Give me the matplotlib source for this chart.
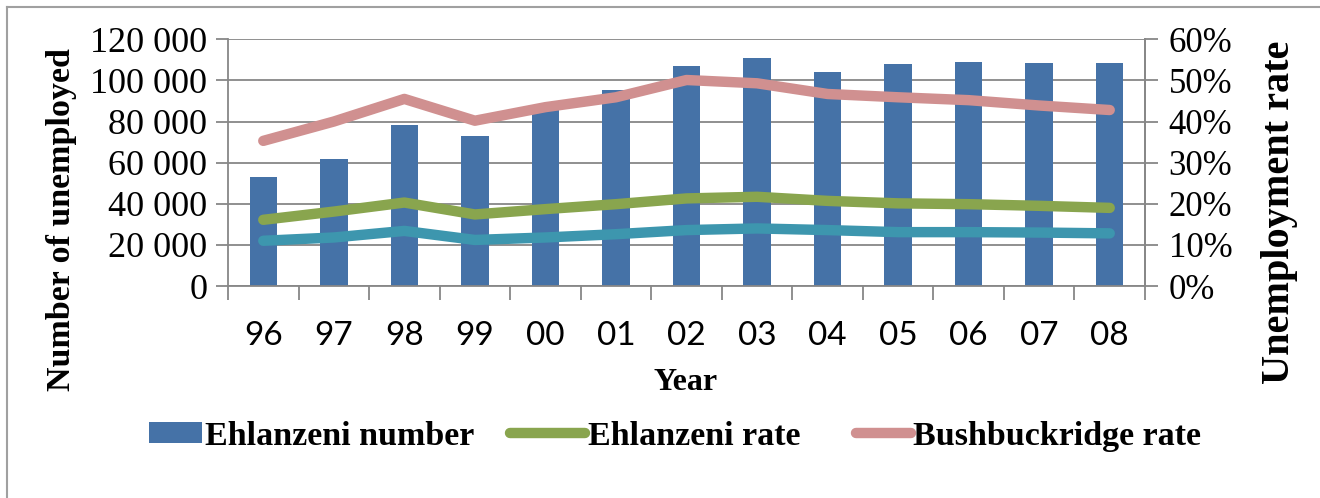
import matplotlib
matplotlib.use("Agg")
import matplotlib.pyplot as plt
from matplotlib.lines import Line2D
from matplotlib.patches import Patch, Rectangle
from matplotlib.legend_handler import HandlerPatch, HandlerLine2D
from matplotlib.ticker import FuncFormatter, MultipleLocator, FixedLocator
import numpy as np

years = ["96", "97", "98", "99", "00", "01", "02", "03", "04", "05", "06", "07", "08"]
ehlanzeni_number = [53000, 61600, 78200, 73000, 85500, 95300, 107200, 110700, 103900, 108000, 109100, 108500, 108600]
ehlanzeni_rate = [16.1, 18.1, 20.3, 17.4, 18.7, 19.9, 21.3, 21.7, 20.7, 20.1, 19.9, 19.5, 19.0]
bushbuckridge_rate = [35.3, 40.0, 45.5, 40.2, 43.5, 45.9, 50.1, 49.3, 46.7, 45.9, 45.2, 43.9, 42.8]
other_rate = [11.0, 11.8, 13.4, 11.2, 11.8, 12.6, 13.6, 14.0, 13.6, 13.1, 13.1, 13.0, 12.8]

BLUE = "#4572A7"
GREEN = "#89A54E"
PINK = "#D09090"
TEAL = "#3D96AE"
GRID = "#878787"

W, H = 1320, 498
fig = plt.figure(figsize=(W / 100, H / 100), dpi=100)

ax = fig.add_axes([228 / W, 1 - 286 / H, (1145 - 228) / W, (286 - 39.3) / H])
x = np.arange(len(years))
ax.bar(x, ehlanzeni_number, width=0.39, color=BLUE, zorder=2)
ax.set_xlim(-0.5, len(years) - 0.5)
ax.set_ylim(0, 120000)
ax.yaxis.set_major_locator(MultipleLocator(20000))
ax.yaxis.set_major_formatter(FuncFormatter(lambda v, p: f"{int(v):,}".replace(",", " ")))
ax.grid(axis="y", color=GRID, linewidth=1.3, zorder=0)
ax.set_axisbelow(True)
ax.set_xticks(x)
ax.set_xticklabels(years, fontfamily="Lato", fontsize=24)
ax.xaxis.set_minor_locator(FixedLocator(np.arange(-0.5, len(years), 1.0)))
ax.tick_params(axis="x", which="major", length=0, pad=25)
ax.tick_params(axis="x", which="minor", length=10, width=1.3, color=GRID)
ax.tick_params(axis="y", length=9, width=1.3, color=GRID, pad=6)
for lab in ax.get_yticklabels():
    lab.set_fontfamily("Liberation Serif")
    lab.set_fontsize(26)
ax.spines["top"].set_visible(False)
for s in ["left", "right", "bottom"]:
    ax.spines[s].set_color(GRID)
    ax.spines[s].set_linewidth(1.3)

ax2 = ax.twinx()
kw = dict(linewidth=7.5, solid_capstyle="round", solid_joinstyle="round", zorder=3)
ax2.plot(x, other_rate, color=TEAL, **kw)
ax2.plot(x, ehlanzeni_rate, color=GREEN, **kw)
ax2.plot(x, bushbuckridge_rate, color=PINK, **kw)
ax2.set_ylim(0, 60)
ax2.yaxis.set_major_locator(MultipleLocator(10))
ax2.yaxis.set_major_formatter(FuncFormatter(lambda v, p: f"{int(v)}%"))
ax2.tick_params(axis="y", length=9, width=1.3, color=GRID, pad=8)
for lab in ax2.get_yticklabels():
    lab.set_fontfamily("Liberation Serif")
    lab.set_fontsize(25)
for s in ["top", "left", "bottom"]:
    ax2.spines[s].set_visible(False)
ax2.spines["right"].set_color(GRID)
ax2.spines["right"].set_linewidth(1.3)

fig.text(62 / W, 1 - 220 / H, "Number of unemployed", rotation=90, ha="center", va="center",
         fontfamily="Liberation Serif", fontweight="bold", fontsize=24.5)
fig.text(1280 / W, 1 - 212 / H, "Unemployment rate", rotation=90, ha="center", va="center",
         fontfamily="Liberation Serif", fontweight="bold", fontsize=29)
fig.text(686 / W, 1 - 382 / H, "Year", ha="center", va="center",
         fontfamily="Liberation Serif", fontweight="bold", fontsize=23)


def small_box(legend, orig_handle, xdescent, ydescent, width, height, fontsize):
    w = width * 0.68
    return Rectangle((width - w - xdescent, -ydescent), w, height)


class ShortLine(HandlerLine2D):
    def __init__(self, frac=1.0, **kw):
        super().__init__(**kw)
        self.frac = frac

    def create_artists(self, legend, orig_handle, xdescent, ydescent, width, height, fontsize, trans):
        arts = super().create_artists(legend, orig_handle, xdescent, ydescent, width, height, fontsize, trans)
        for a in arts:
            xd = np.asarray(a.get_xdata(), dtype=float)
            if xd.size >= 2:
                x1 = xd.max()
                x0 = x1 - (x1 - xd.min()) * self.frac
                a.set_xdata(np.linspace(x0, x1, xd.size))
        return arts


green_h = Line2D([], [], color=GREEN, linewidth=7.5, solid_capstyle="round")
pink_h = Line2D([], [], color=PINK, linewidth=7.5, solid_capstyle="round")
handles = [Patch(facecolor=BLUE, edgecolor="none"), green_h, pink_h]
labels = ["Ehlanzeni number", "Ehlanzeni rate", "Bushbuckridge rate"]
fig.legend(handles, labels, loc="center left", bbox_to_anchor=(124 / W, 1 - 436 / H), ncol=3,
           frameon=False, prop={"family": "Liberation Serif", "weight": "bold", "size": 24.5},
           handlelength=2.3, handleheight=0.55, handletextpad=0.08, columnspacing=0.95,
           borderpad=0.0, borderaxespad=0.0,
           handler_map={Patch: HandlerPatch(patch_func=small_box),
                        green_h: ShortLine(frac=0.95),
                        pink_h: ShortLine(frac=0.7)})

fig.add_artist(Line2D([7 / W, 1.0], [1 - 7 / H, 1 - 7 / H], color="#A0A0A0", linewidth=1.5))
fig.add_artist(Line2D([7 / W, 7 / W], [0.0, 1 - 7 / H], color="#A0A0A0", linewidth=1.5))

fig.savefig("out.png", dpi=100)
